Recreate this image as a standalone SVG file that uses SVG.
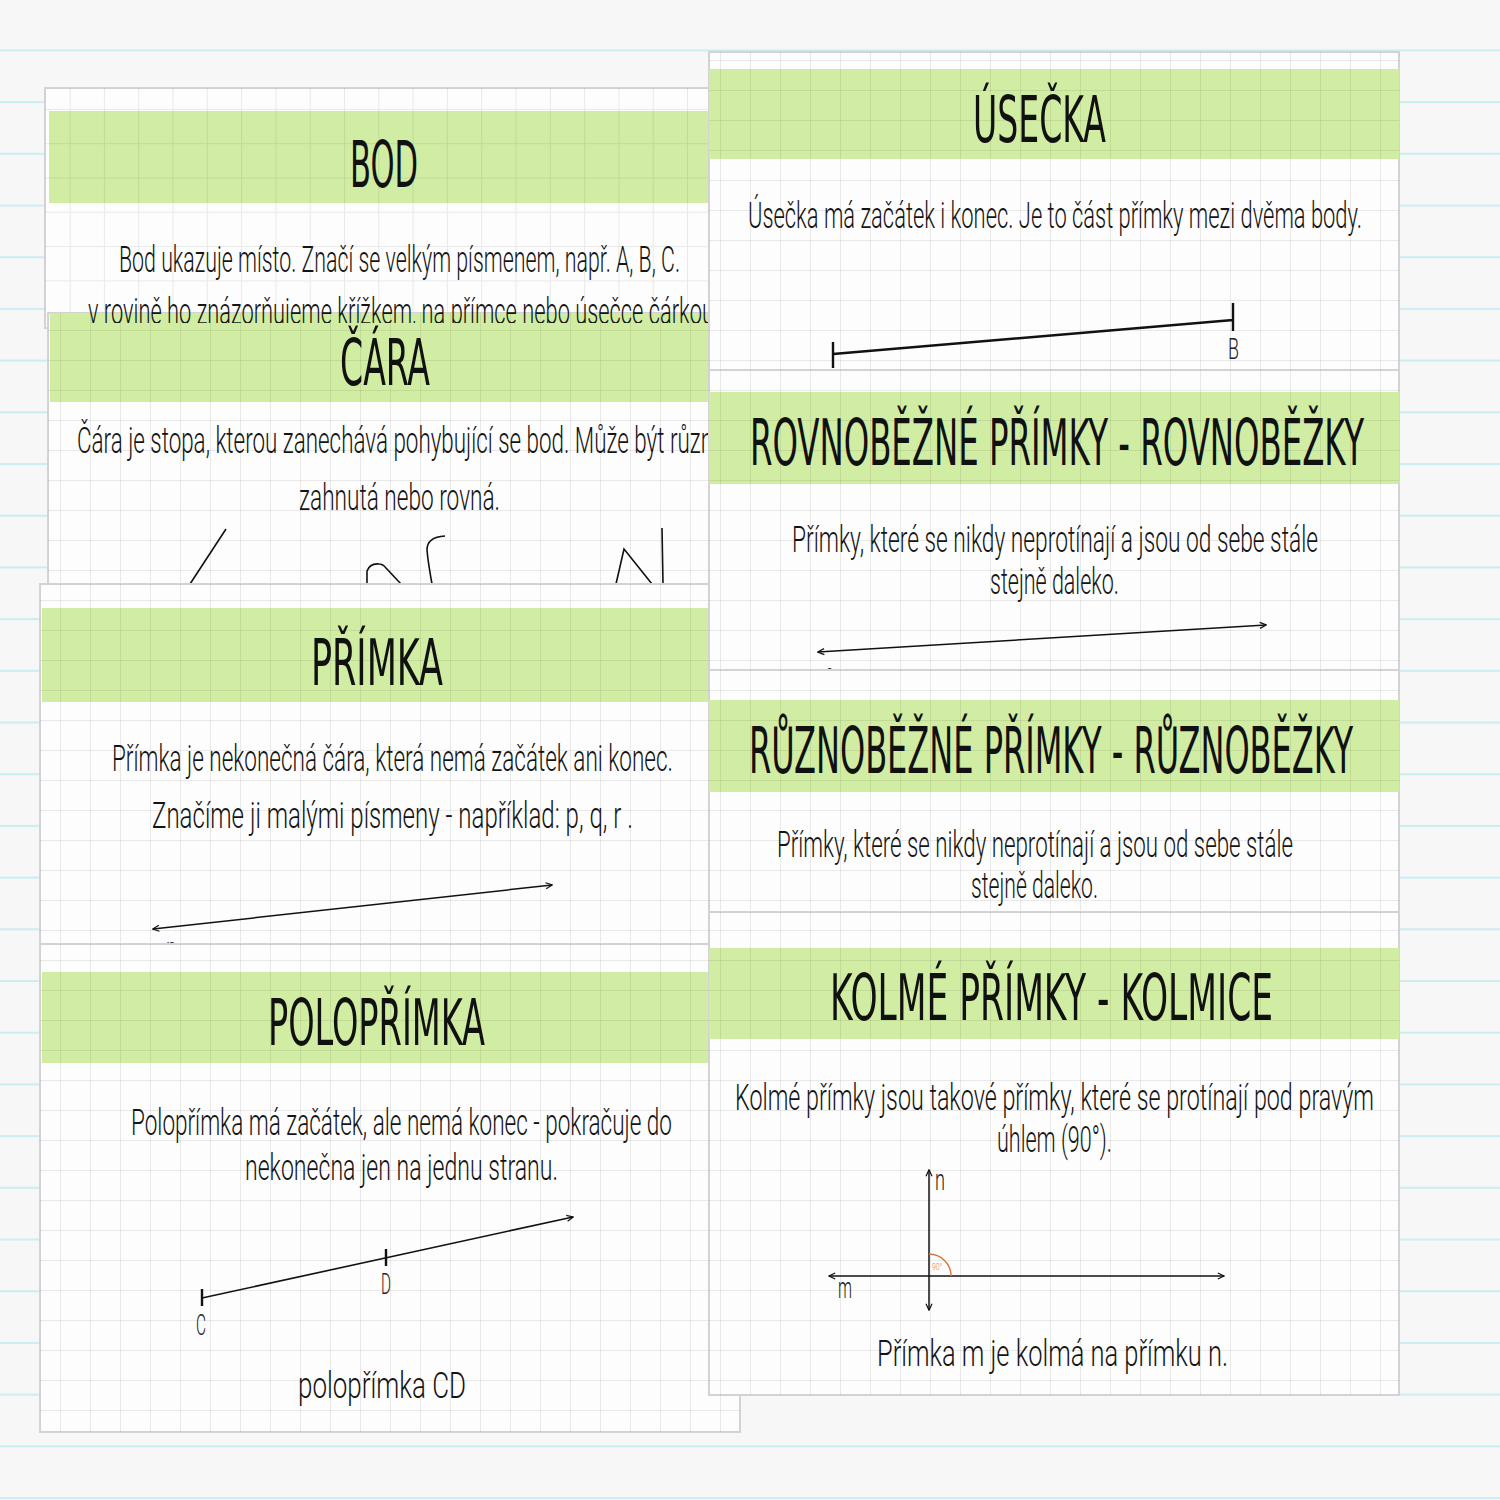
<svg xmlns="http://www.w3.org/2000/svg" width="1500" height="1500" viewBox="0 0 1500 1500">
<style>
.card{fill:#fdfdfd;stroke:#d3d3d3;stroke-width:2}
.band{fill:#d1eda3}
.grid{fill:url(#grid)}
.title{font-family:"Liberation Sans Narrow","DejaVu Sans Condensed","Liberation Sans",sans-serif;font-size:64px;fill:#111}
.body{font-family:Roboto,"Liberation Sans",sans-serif;font-weight:300;font-size:36px;fill:#141414}
.lbl{font-family:Roboto,"Liberation Sans",sans-serif;font-weight:300;font-size:29px;fill:#222}
.ln{stroke:#111;stroke-width:1.6;fill:none}
.ln2{stroke:#111;stroke-width:2.4;fill:none}
.arr{stroke:#111;stroke-width:1.5;fill:none;marker-start:url(#ah);marker-end:url(#ah)}
</style>
<defs>
<pattern id="bglines" patternUnits="userSpaceOnUse" x="0" y="-0.3" width="1500" height="51.7">
<rect x="0" y="49.8" width="1500" height="3" fill="#c9edf3"/>
</pattern>
<pattern id="grid" patternUnits="userSpaceOnUse" x="0" y="0" width="30" height="30">
<path d="M0,0.5 H30 M0.5,0 V30" stroke="#000" stroke-opacity="0.08" stroke-width="1" fill="none"/>
</pattern>
<pattern id="gridb" patternUnits="userSpaceOnUse" x="1" y="6" width="34.3" height="34.3">
<path d="M0,0.5 H34.3 M0.5,0 V34.3" stroke="#000" stroke-opacity="0.08" stroke-width="1" fill="none"/>
</pattern>
<marker id="ah" viewBox="0 0 8 8" refX="7.2" refY="4" markerWidth="8" markerHeight="8" markerUnits="userSpaceOnUse" orient="auto-start-reverse">
<path d="M1,1 L7.5,4 L1,7" stroke="#111" stroke-width="1.2" fill="none"/>
</marker>
<clipPath id="clipL2"><rect x="0" y="290" width="1500" height="33"/></clipPath>
</defs>

<g id="background">
<rect x="0" y="0" width="1500" height="1500" fill="#f7f7f7"/>
<rect x="0" y="0" width="1500" height="1500" fill="url(#bglines)"/>
</g>

<g id="card-bod">
<rect class="card" x="45" y="88" width="695" height="240"/>
<rect class="band" x="49" y="111" width="691" height="92"/>
<rect x="45" y="88" width="695" height="240" fill="url(#gridb)"/>
<text class="title" x="350" y="187" font-size="70" textLength="68" lengthAdjust="spacingAndGlyphs">BOD</text>
<text class="body" x="119" y="272" textLength="561" lengthAdjust="spacingAndGlyphs">Bod ukazuje místo. Značí se velkým písmenem, např. A, B, C.</text>
</g>

<g id="card-cara">
<rect class="card" x="48" y="313" width="692" height="271" stroke="none"/>
<rect class="band" x="50" y="313" width="690" height="89"/>
<rect x="48" y="313" width="692" height="271" class="grid"/>
<text class="title" x="340" y="385" textLength="90" lengthAdjust="spacingAndGlyphs">ČÁRA</text>
<text class="body" x="77" y="453" textLength="636" lengthAdjust="spacingAndGlyphs">Čára je stopa, kterou zanechává pohybující se bod. Může být různ</text>
<text class="body" x="299" y="510" textLength="201" lengthAdjust="spacingAndGlyphs">zahnutá nebo rovná.</text>
<path class="ln" d="M190,584 L226,529"/>
<path class="ln" d="M367,584 L367,571 Q370,563 379,564 Q383,564 386,568 L401,584"/>
<path class="ln" d="M432,584 Q428,562 427,550 Q427,537 445,536"/>
<path class="ln" d="M616,584 L624,549 L652,584"/>
<path class="ln" d="M662,528 L663,584"/>
</g>

<g id="bod-line2" clip-path="url(#clipL2)">
<text class="body" x="88" y="324" textLength="626" lengthAdjust="spacingAndGlyphs">v rovině ho znázorňujeme křížkem, na přímce nebo úsečce čárkou</text>
</g>

<g id="card-primka">
<rect class="card" x="40" y="584" width="700" height="380"/>
<rect class="band" x="42" y="608" width="698" height="94"/>
<rect x="40" y="584" width="700" height="380" class="grid"/>
<text class="title" x="311" y="685" textLength="132" lengthAdjust="spacingAndGlyphs">PŘÍMKA</text>
<text class="body" x="112" y="771" textLength="561" lengthAdjust="spacingAndGlyphs">Přímka je nekonečná čára, která nemá začátek ani konec.</text>
<text class="body" x="152" y="828" textLength="481" lengthAdjust="spacingAndGlyphs">Značíme ji malými písmeny - například:  p, q, r .</text>
<path class="arr" d="M153,929 L552,885"/>
<text class="lbl" x="166" y="958" textLength="11" lengthAdjust="spacingAndGlyphs">p</text>
</g>

<g id="card-poloprimka">
<rect class="card" x="40" y="944" width="700" height="488"/>
<rect class="band" x="42" y="972" width="698" height="91"/>
<rect x="40" y="944" width="700" height="488" class="grid"/>
<text class="title" x="268" y="1045" textLength="217" lengthAdjust="spacingAndGlyphs">POLOPŘÍMKA</text>
<text class="body" x="131" y="1135" textLength="541" lengthAdjust="spacingAndGlyphs">Polopřímka má začátek, ale nemá konec - pokračuje do</text>
<text class="body" x="245" y="1180" textLength="313" lengthAdjust="spacingAndGlyphs">nekonečna jen na jednu stranu.</text>
<path class="ln" d="M202,1298 L573,1217" marker-end="url(#ah)"/>
<path class="ln2" d="M202,1289 V1306 M386,1249 V1266"/>
<text class="lbl" x="196" y="1335" font-size="26" textLength="10" lengthAdjust="spacingAndGlyphs">C</text>
<text class="lbl" x="381" y="1294" font-size="26" textLength="10" lengthAdjust="spacingAndGlyphs">D</text>
<text class="body" x="298" y="1398" textLength="168" lengthAdjust="spacingAndGlyphs">polopřímka CD</text>
</g>

<g id="card-usecka">
<rect class="card" x="709" y="52" width="690" height="318"/>
<rect class="band" x="709" y="69" width="690" height="90"/>
<rect x="709" y="52" width="690" height="318" class="grid"/>
<text class="title" x="973" y="142" textLength="133" lengthAdjust="spacingAndGlyphs">ÚSEČKA</text>
<text class="body" x="748" y="228" textLength="614" lengthAdjust="spacingAndGlyphs">Úsečka má začátek i konec. Je to část přímky mezi dvěma body.</text>
<path class="ln2" d="M833,354 L1233,320 M833,342 V368 M1233,303 V331"/>
<text class="lbl" x="1228" y="359" textLength="11" lengthAdjust="spacingAndGlyphs">B</text>
</g>

<g id="card-rovnobezne">
<rect class="card" x="709" y="370" width="690" height="300"/>
<rect class="band" x="709" y="392" width="690" height="92"/>
<rect x="709" y="370" width="690" height="300" class="grid"/>
<text class="title" x="750" y="465" textLength="614" lengthAdjust="spacingAndGlyphs">ROVNOBĚŽNÉ PŘÍMKY - ROVNOBĚŽKY</text>
<text class="body" x="792" y="552" textLength="526" lengthAdjust="spacingAndGlyphs">Přímky, které se nikdy neprotínají a jsou od sebe stále</text>
<text class="body" x="990" y="594" textLength="129" lengthAdjust="spacingAndGlyphs">stejně daleko.</text>
<path class="arr" d="M818,652 L1266,625"/>
<text class="lbl" x="825" y="684" textLength="9" lengthAdjust="spacingAndGlyphs">c</text>
</g>

<g id="card-ruznobezne">
<rect class="card" x="709" y="670" width="690" height="242"/>
<rect class="band" x="709" y="700" width="690" height="92"/>
<rect x="709" y="670" width="690" height="242" class="grid"/>
<text class="title" x="749" y="773" textLength="604" lengthAdjust="spacingAndGlyphs">RŮZNOBĚŽNÉ PŘÍMKY - RŮZNOBĚŽKY</text>
<text class="body" x="777" y="857" textLength="516" lengthAdjust="spacingAndGlyphs">Přímky, které se nikdy neprotínají a jsou od sebe stále</text>
<text class="body" x="971" y="898" textLength="127" lengthAdjust="spacingAndGlyphs">stejně daleko.</text>
</g>

<g id="card-kolme">
<rect class="card" x="709" y="912" width="690" height="483"/>
<rect class="band" x="709" y="948" width="690" height="91"/>
<rect x="709" y="912" width="690" height="483" class="grid"/>
<text class="title" x="830" y="1020" textLength="443" lengthAdjust="spacingAndGlyphs">KOLMÉ PŘÍMKY - KOLMICE</text>
<text class="body" x="735" y="1110" textLength="639" lengthAdjust="spacingAndGlyphs">Kolmé přímky jsou takové přímky, které se protínají pod pravým</text>
<text class="body" x="997" y="1152" textLength="115" lengthAdjust="spacingAndGlyphs">úhlem (90°).</text>
<path class="arr" d="M929,1170 L929,1310"/>
<path class="arr" d="M829,1276 L1224,1276"/>
<path d="M929,1254 A22,22 0 0 1 951,1276" stroke="#d9773a" stroke-width="1.4" fill="none"/>
<text x="932" y="1270" font-family="Roboto, Liberation Sans, sans-serif" font-weight="300" font-size="9" fill="#d9773a" textLength="10" lengthAdjust="spacingAndGlyphs">90°</text>
<text class="lbl" x="935" y="1190" font-size="26" textLength="10" lengthAdjust="spacingAndGlyphs">n</text>
<text class="lbl" x="838" y="1298" font-size="25" textLength="14" lengthAdjust="spacingAndGlyphs">m</text>
<text class="body" x="877" y="1366" textLength="351" lengthAdjust="spacingAndGlyphs">Přímka m je kolmá na přímku n.</text>
</g>
</svg>
